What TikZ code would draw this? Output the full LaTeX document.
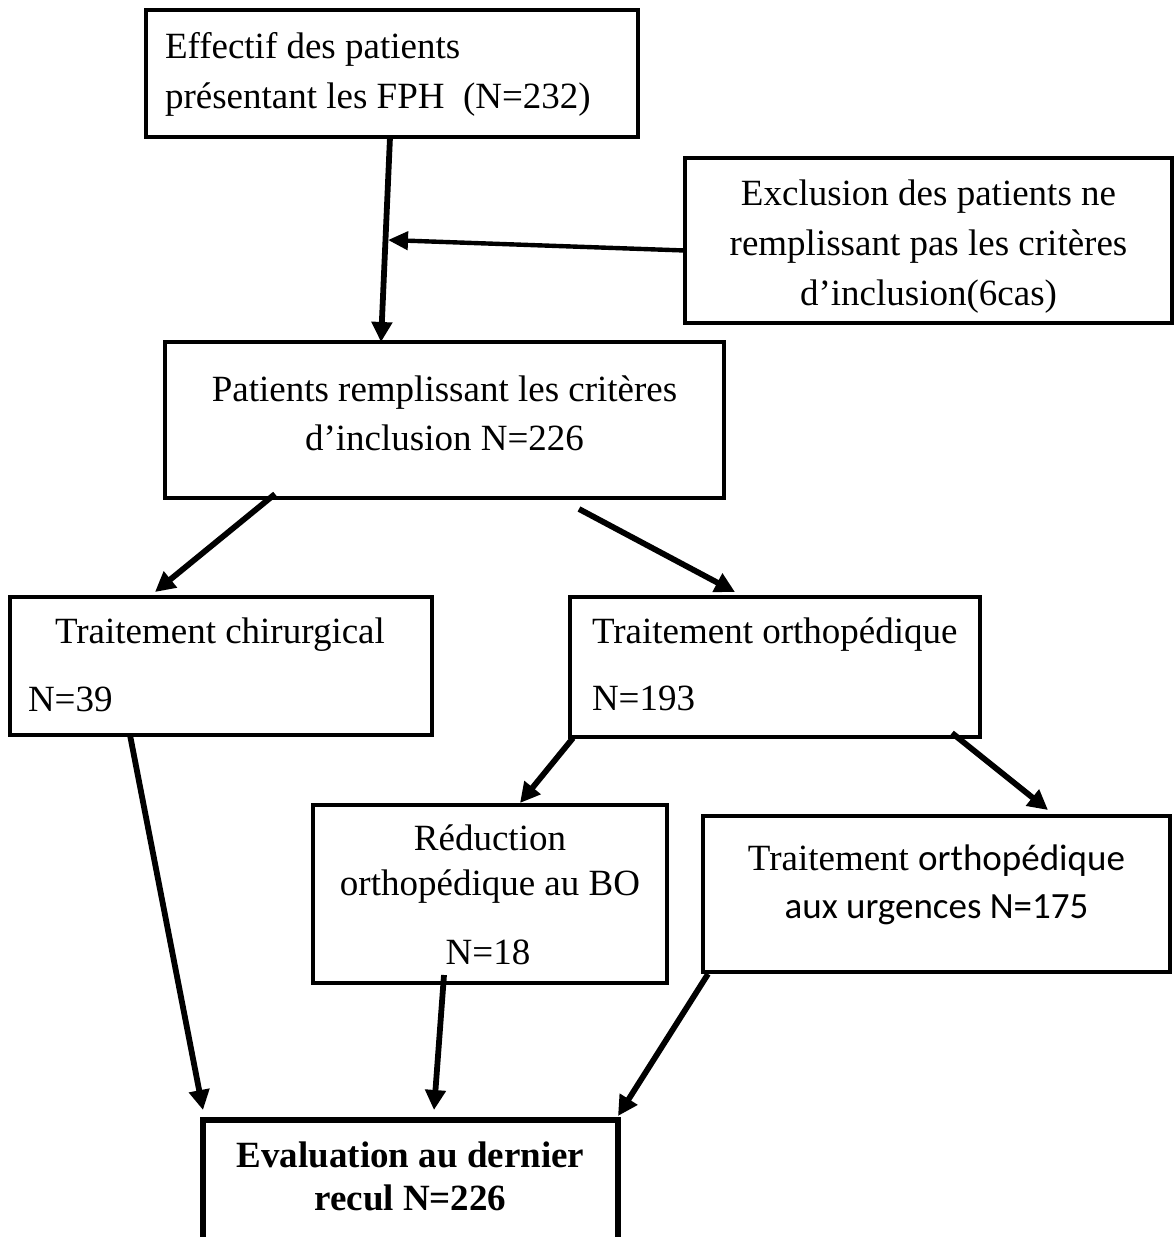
\documentclass[tikz,border=0pt]{standalone}
\usepackage{fontspec}
\setmainfont{Liberation Serif}
\newfontfamily\calibrifont{Carlito}
\usetikzlibrary{arrows.meta,calc}
\begin{document}
\begin{tikzpicture}[x=0.5pt,y=-0.5pt,
  box/.style={draw, line width=2pt, rectangle, inner sep=0pt, outer sep=0pt},
  thickbox/.style={box, line width=3.4pt},
  txt/.style={inner sep=0pt, outer sep=0pt, font=\fontsize{18.5}{25}\selectfont},
  btxt/.style={txt, font=\fontsize{18.5}{25}\selectfont\bfseries},
  arr/.style={line width=2.9pt, -{Triangle[length=10pt,width=10pt]}},
  thinarr/.style={line width=2.2pt, -{Triangle[length=10pt,width=9pt]}}]
\clip (0,0) rectangle (1174,1237);
\fill[white] (0,0) rectangle (1174,1237);

% boxes
\node[box, line width=2.4pt, minimum width=246pt, minimum height=63.5pt] (b1) at (392,73.5) {};
\node[box, line width=2.4pt, minimum width=243.5pt, minimum height=82.5pt] (b2) at (928.5,240.5) {};
\node[box, minimum width=279.5pt, minimum height=78pt] (b3) at (444.5,420) {};
\node[box, minimum width=211pt, minimum height=69pt] (b4) at (221,666) {};
\node[box, minimum width=205pt, minimum height=70pt] (b5) at (775,667) {};
\node[box, minimum width=177pt, minimum height=89pt] (b6) at (490,894) {};
\node[box, minimum width=233.5pt, minimum height=78pt] (b7) at (936.5,894) {};
\node[thickbox, minimum width=207.5pt, minimum height=70pt] (b8) at (410.5,1190) {};

% connectors
\coordinate (j) at (388,240);
\draw[arr] ($(b1.south)+(-2,0)$) -- ($(b3.north)+(-63.5,0)$);
\draw[thinarr] ($(b2.west)+(0,10)$) -- (j);
\draw[arr] ($(b3.south west)+(110,-4)$) -- ($(b4.north west)+(145,-5)$);
\draw[arr] ($(b3.south west)+(414,11)$) -- ($(b5.north west)+(165,-5)$);
\draw[arr] ($(b5.south west)+(3,1)$) -- ($(b6.north west)+(207,-2)$);
\draw[arr] ($(b5.south west)+(382,-4)$) -- ($(b7.north west)+(345,-6)$);
\draw[arr] ($(b4.south west)+(120,0)$) -- ($(b8.north west)+(0,-10)$);
\draw[arr] ($(b6.south west)+(131,-8)$) -- ($(b8.north west)+(231,-10)$);
\draw[arr] ($(b7.south west)+(5,2)$) -- ($(b8.north east)+(0,-4)$);

% texts
\node[txt, anchor=base west] (t1a) at (165,58) {Effectif des patients};
\node[txt, anchor=base west] (t1b) at (165,108) {présentant les FPH\ \ (N=232)};

\node[txt, anchor=base] (t2a) at (928.5,205) {Exclusion des patients ne};
\node[txt, anchor=base] (t2b) at (928.5,255) {remplissant pas les critères};
\node[txt, anchor=base] (t2c) at (928.5,305) {d’inclusion(6cas)};

\node[txt, anchor=base] (t3a) at (444.5,401) {Patients remplissant les critères};
\node[txt, anchor=base] (t3b) at (444.5,450) {d’inclusion N=226};

\node[txt, anchor=base west] (t4a) at (55,643) {Traitement chirurgical};
\node[txt, anchor=base west] (t4b) at (28,711) {N=39};

\node[txt, anchor=base west] (t5a) at (592,643) {Traitement orthopédique};
\node[txt, anchor=base west] (t5b) at (592,710) {N=193};

\node[txt, anchor=base] (t6a) at (490,850) {Réduction};
\node[txt, anchor=base] (t6b) at (490,895) {orthopédique au BO};
\node[txt, anchor=base] (t6c) at (488,964) {N=18};

\node[txt, anchor=base] (t7a) at (936.5,870) {Traitement {\calibrifont orthopédique}};
\node[txt, anchor=base] (t7b) at (936.5,918) {\calibrifont aux urgences N=175};

\node[btxt, anchor=base] (t8a) at (410.5,1167) {Evaluation au dernier};
\node[btxt, anchor=base] (t8b) at (410.5,1210) {recul N=226};
\end{tikzpicture}
\end{document}
